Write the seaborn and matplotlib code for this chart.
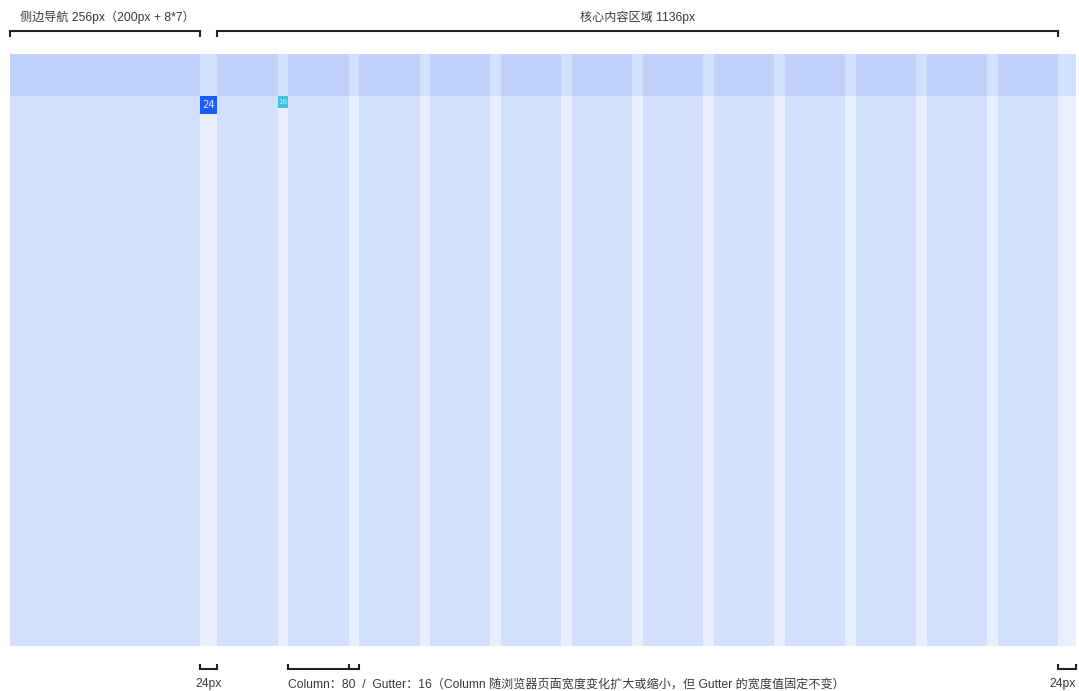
import numpy as np
import matplotlib.pyplot as plt
import seaborn as sns

# layout widths in design px (1440 wide page)
nav_width = 256
nav_gutter = 24
column_widths = [81.5, 81.5, 81.5, 81.5, 81.5, 81.5, 81.5, 81.5, 81.5, 81.5, 81.5, 81.5]
gutter_widths = [14.36, 14.36, 14.36, 14.36, 14.36, 14.36, 14.36, 14.36, 14.36, 14.36, 14.36]
right_margin = 24
header_height = 58
page_height = 800

nav_label = "侧边导航 256px（200px + 8*7）"
content_label = "核心内容区域 1136px"
margin_label = "24px"
grid_label = "Column：80  /  Gutter：16（Column 随浏览器页面宽度变化扩大或缩小，但 Gutter 的宽度值固定不变）"

sns.set_theme(style="white")
plt.rcParams['font.family'] = ['Liberation Sans', 'Noto Sans CJK SC', 'DejaVu Sans']

# build the row of segments: nav, gutter, col, gutter, ..., col, margin
widths = [nav_width, nav_gutter]
kinds = ['col', 'gap']
for i, w in enumerate(column_widths):
    widths.append(w)
    kinds.append('col')
    if i < len(gutter_widths):
        widths.append(gutter_widths[i])
        kinds.append('gap')
widths.append(right_margin)
kinds.append('gap')
widths = np.array(widths)
kinds = np.array(kinds)
lefts = np.concatenate([[0], np.cumsum(widths)[:-1]])
total = widths.sum()

fig = plt.figure(figsize=(10.79, 6.91), dpi=100)
ax = fig.add_axes([0, 0, 1, 1])
scale = 1066 / 1440
ax.set_xlim(-10 / scale, (1079 - 10) / scale)
ax.set_ylim((691 - 53.5) / scale, -53.5 / scale)
ax.axis('off')

# background bands
ax.bar(0, header_height, width=total, bottom=0, align='edge', color='#D3E0FD', linewidth=0)
ax.bar(0, page_height - header_height, width=total, bottom=header_height, align='edge',
       color='#E8EFFE', linewidth=0)

# columns
is_col = kinds == 'col'
ax.bar(lefts[is_col], header_height, width=widths[is_col], bottom=0, align='edge',
       color='#C0D2FC', linewidth=0)
ax.bar(lefts[is_col], page_height - header_height, width=widths[is_col], bottom=header_height,
       align='edge', color='#D3E0FD', linewidth=0)

# badges
ax.bar(lefts[1], 24, width=nav_gutter, bottom=header_height, align='edge', color='#1A5CFF', linewidth=0)
ax.text(lefts[1] + nav_gutter / 2, header_height + 12, "24", color='#E6EEFF', fontsize=7.2,
        ha='center', va='center', family='DejaVu Sans')
ax.bar(lefts[3], 16, width=gutter_widths[0], bottom=header_height, align='edge', color='#3DC5E0', linewidth=0)
ax.text(lefts[3] + gutter_widths[0] / 2, header_height + 8, "16", color='#C8F0F8', fontsize=5,
        ha='center', va='center', family='DejaVu Sans')


def bracket(x0, x1, y, tick, mids=()):
    ax.plot([x0, x0, x1, x1], [y + tick, y, y, y + tick], color='#222222', lw=1.5,
            solid_joinstyle='miter', solid_capstyle='butt')
    for m in mids:
        ax.plot([m, m], [y, y + tick], color='#222222', lw=1.5, solid_capstyle='butt')


# top brackets and labels
top_y = -30.4
bracket(0, nav_width, top_y, 8)
bracket(lefts[2], lefts[-1], top_y, 8)
ax.text(13.5, -49, nav_label, fontsize=8.7, color='#3a3a3a', ha='left', va='center')
ax.text((lefts[2] + lefts[-1]) / 2, -49, content_label, fontsize=8.7, color='#3a3a3a',
        ha='center', va='center')

# bottom brackets and labels
bot_y = 831.4
bracket(lefts[1], lefts[2], bot_y, -7)
bracket(lefts[4], lefts[6], bot_y, -7, mids=[lefts[5]])
bracket(lefts[-1], total, bot_y, -7)
ax.text((lefts[1] + lefts[2]) / 2, 852, margin_label, fontsize=8.7, color='#3a3a3a',
        ha='center', va='center')
ax.text(lefts[4], 852, grid_label, fontsize=8.7, color='#3a3a3a', ha='left', va='center')
ax.text(total, 852, margin_label, fontsize=8.7, color='#3a3a3a', ha='right', va='center')

fig.savefig('out.png', dpi=100)
plt.close(fig)
